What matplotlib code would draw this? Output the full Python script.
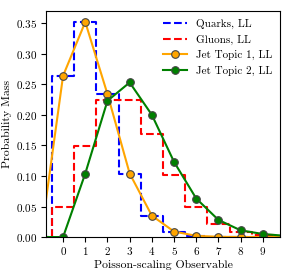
import numpy as np
import matplotlib
matplotlib.use("Agg")
import matplotlib.pyplot as plt

plt.rcParams["font.family"] = "serif"
plt.rcParams["font.serif"] = ["cmr10", "DejaVu Serif"]
plt.rcParams["axes.formatter.use_mathtext"] = True
plt.rcParams["mathtext.fontset"] = "cm"

# -----------------------------
# Data
# -----------------------------
x = np.arange(-1, 11)

quarks = [0.0, 0.264, 0.352, 0.234, 0.104, 0.035, 0.009, 0.002, 0.0004, 0.0001, 0.0, 0.0]
gluons = [0.0, 0.050, 0.149, 0.224, 0.224, 0.168, 0.101, 0.050, 0.022, 0.008, 0.003, 0.001]
topic1 = [0.0, 0.264, 0.352, 0.234, 0.104, 0.035, 0.009, 0.002, 0.0004, 0.0001, 0.0, 0.0]
topic2 = [0.0, 0.0, 0.104, 0.223, 0.253, 0.200, 0.123, 0.063, 0.028, 0.011, 0.005, 0.002]

xticks = list(range(10))

# -----------------------------
# Plot
# -----------------------------
fig = plt.figure(figsize=(2.91, 2.75), dpi=100)
ax = fig.add_axes([0.158, 0.138, 0.804, 0.822])

ax.step(x, quarks, where="mid", color="blue", linestyle="--", lw=1.5, label="Quarks, LL")
ax.step(x, gluons, where="mid", color="red", linestyle="--", lw=1.5, label="Gluons, LL")
ax.plot(x, topic1, color="orange", marker="o", ms=5.5, mec="#444444", mew=0.8,
        lw=1.5, label="Jet Topic 1, LL")
ax.plot(x, topic2, color="green", marker="o", ms=5.5, mec="#444444", mew=0.8,
        lw=1.5, label="Jet Topic 2, LL")

ax.set_xlim(-0.77, 9.77)
ax.set_ylim(0, 0.37)
ax.set_xticks(xticks)
ax.set_yticks(np.arange(0, 0.36, 0.05))
ax.tick_params(labelsize=8, length=3.5, pad=2.5)
ax.set_xlabel("Poisson-scaling Observable", fontsize=8.5, labelpad=2)
ax.set_ylabel("Probability Mass", fontsize=8.5, labelpad=3)
ax.legend(loc="upper right", frameon=False, fontsize=8, handlelength=2.2,
          borderaxespad=0.3)

fig.savefig("out.png", dpi=100)
